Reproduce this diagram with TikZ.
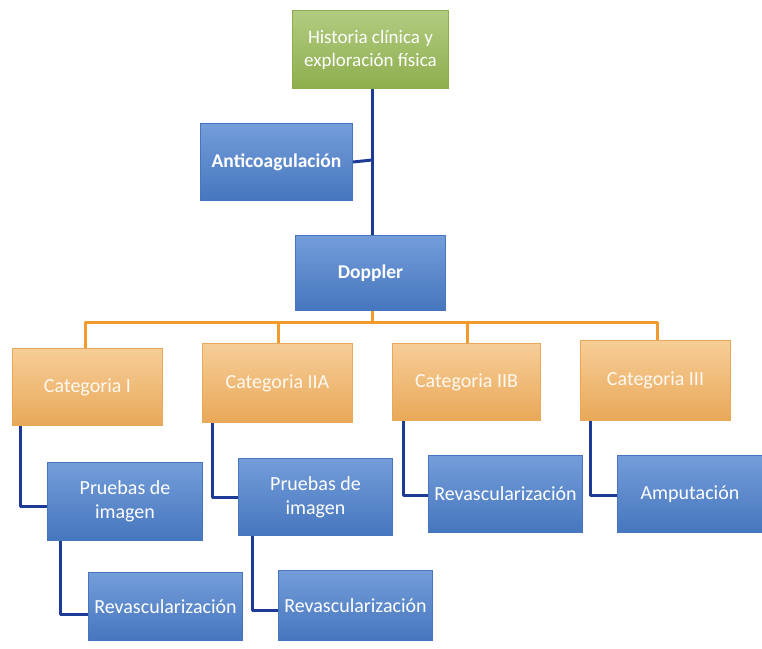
\documentclass[tikz,border=0pt]{standalone}
\usepackage{fontspec}
\setmainfont{Carlito}
\usetikzlibrary{positioning}
\definecolor{boxblue}{HTML}{5B8CD3}
\definecolor{boxblueD}{HTML}{4676BE}
\definecolor{boxorange}{HTML}{F4C17E}
\definecolor{boxorangeD}{HTML}{E9A858}
\definecolor{boxgreen}{HTML}{A4C36A}
\definecolor{boxgreenD}{HTML}{8DAE4E}
\definecolor{linkblue}{HTML}{1E3A97}
\definecolor{linkorange}{HTML}{F39A2D}
\begin{document}
\begin{tikzpicture}[x=1pt,y=-1pt,
  bbox/.style={draw=#1, line width=1pt, inner sep=0pt, anchor=north west, align=center, text=white, font=\fontsize{20}{24}\selectfont},
  bluebox/.style={bbox=boxblueD, top color=boxblue!85!white, bottom color=boxblueD},
  orangebox/.style={bbox=boxorangeD, top color=boxorange!80!white, bottom color=boxorangeD, text=white!95!orange},
  greenbox/.style={bbox=boxgreenD, top color=boxgreen!85!white, bottom color=boxgreenD},
  blink/.style={draw=linkblue, line width=3pt},
  olink/.style={draw=linkorange, line width=3pt}]
\useasboundingbox (0,0) rectangle (762,648);
\fill[white] (0,0) rectangle (762,648);
% nodes
\node[greenbox, minimum width=156pt, minimum height=78pt, font=\fontsize{19}{23}\selectfont] (hist) at (292,10) {Historia clínica y\\exploración física};
\node[bluebox, minimum width=152pt, minimum height=77pt, font=\fontsize{19.5}{23}\selectfont\bfseries] (anti) at (200,123) {Anticoagulación};
\node[bluebox, minimum width=150pt, minimum height=75pt, font=\fontsize{19.5}{23}\selectfont\bfseries] (dop) at (295,235) {Doppler};
\node[orangebox, minimum width=150pt, minimum height=77pt] (c1) at (12,348) {Categoria I};
\node[orangebox, minimum width=150pt, minimum height=79pt] (c2) at (202,343) {Categoria IIA};
\node[orangebox, minimum width=148pt, minimum height=77pt] (c3) at (392,343) {Categoria IIB};
\node[orangebox, minimum width=150pt, minimum height=80pt] (c4) at (580,340) {Categoria III};
\node[bluebox, minimum width=155pt, minimum height=78pt] (p1) at (47,462) {Pruebas de\\imagen};
\node[bluebox, minimum width=154pt, minimum height=77pt] (p2) at (238,458) {Pruebas de\\imagen};
\node[bluebox, minimum width=154pt, minimum height=77pt] (r3) at (428,455) {Revascularización};
\node[bluebox, minimum width=145pt, minimum height=77pt] (amp) at (617,455) {Amputación};
\node[bluebox, minimum width=154pt, minimum height=68pt] (r1) at (88,572) {Revascularización};
\node[bluebox, minimum width=154pt, minimum height=70pt] (r2) at (278,570) {Revascularización};
% connectors
\coordinate (trunk) at (372,160);
\draw[blink] (hist.south -| trunk) -- (dop.north -| trunk);
\draw[blink] (anti.east) -- (trunk);
\coordinate (obar) at (372,322);
\draw[olink] (dop.south -| obar) -- (obar);
\draw[olink, line join=round] (c1.north -| 85,0) -- (85,322) -- (657,322) -- (c4.north -| 657,0);
\draw[olink] (278,322) -- (c2.north -| 278,0);
\draw[olink] (467,322) -- (c3.north -| 467,0);
\draw[blink, line join=round] (c1.south -| 20,0) -- (20,506) -- (p1.west |- 0,506);
\draw[blink, line join=round] (p1.south -| 60,0) -- (60,614) -- (r1.west |- 0,614);
\draw[blink, line join=round] (c2.south -| 212,0) -- (212,497) -- (p2.west |- 0,497);
\draw[blink, line join=round] (p2.south -| 252,0) -- (252,610) -- (r2.west |- 0,610);
\draw[blink, line join=round] (c3.south -| 403,0) -- (403,495) -- (r3.west |- 0,495);
\draw[blink, line join=round] (c4.south -| 590,0) -- (590,495) -- (amp.west |- 0,495);
\end{tikzpicture}
\end{document}
